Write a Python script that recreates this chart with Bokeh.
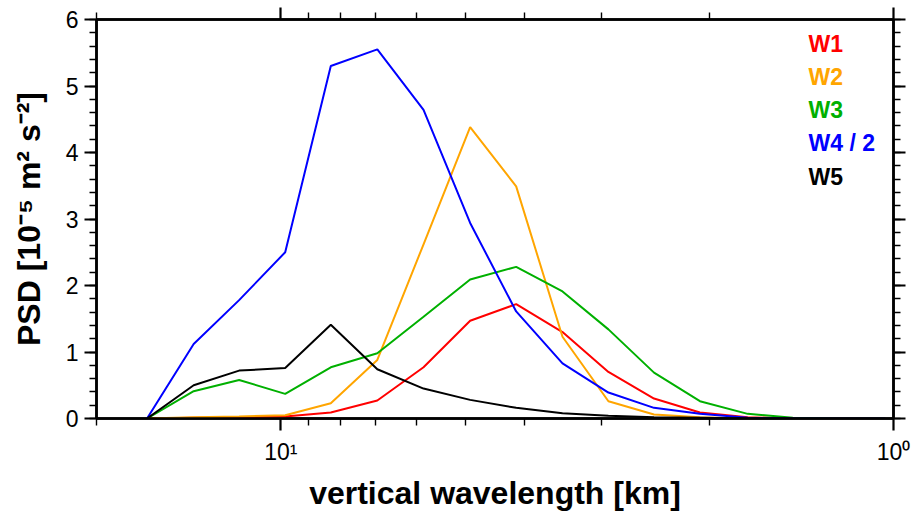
import math
from bokeh.plotting import figure
from bokeh.models import (Range1d, LinearAxis, LogAxis, FixedTicker, SingleIntervalTicker,
                          Label, CustomJSTickFormatter)
from bokeh.embed import file_html
from bokeh.resources import INLINE

# ---------------- data ----------------
wavelength_km = [16.54, 13.88, 11.70, 9.84, 8.29, 6.96, 5.85, 4.91, 4.13, 3.47,
                 2.92, 2.46, 2.07, 1.73, 1.46, 1.23, 1.03]
w1 = [0.00, 0.01, 0.02, 0.03, 0.09, 0.27, 0.77, 1.47, 1.72, 1.30,
      0.70, 0.30, 0.09, 0.02, 0.00, 0.00, 0.00]
w2 = [0.00, 0.02, 0.03, 0.05, 0.23, 0.88, 2.62, 4.38, 3.49, 1.23,
      0.26, 0.06, 0.02, 0.00, 0.00, 0.00, 0.00]
w3 = [0.00, 0.41, 0.58, 0.37, 0.77, 0.98, 1.53, 2.09, 2.28, 1.91,
      1.34, 0.69, 0.26, 0.07, 0.01, 0.00, 0.00]
w4_half = [0.00, 1.12, 1.78, 2.50, 5.30, 5.55, 4.64, 2.94, 1.61, 0.83,
           0.39, 0.16, 0.07, 0.01, 0.00, 0.00, 0.00]
w5 = [0.00, 0.50, 0.72, 0.76, 1.41, 0.74, 0.45, 0.28, 0.16, 0.08,
      0.04, 0.02, 0.01, 0.00, 0.00, 0.00, 0.00]

series_names = ["W1", "W2", "W3", "W4 / 2", "W5"]
series_values = [w1, w2, w3, w4_half, w5]
series_colors = ["#FF0000", "#FFA500", "#00B000", "#0000FF", "#000000"]

x_major_ticks = [1, 10]
x_minor_ticks = [2, 3, 4, 5, 6, 7, 8, 9, 20]
x_tick_labels = {"1": "10\u2070", "10": "10\u00b9"}
x_title = "vertical wavelength [km]"
y_title = "PSD [10\u207b\u2075 m\u00b2 s\u207b\u00b2]"

# ---------------- layout ----------------
FONT = "Liberation Sans"
W, H = 914, 513
FL, FR, FT, FB = 96, 893, 19, 418  # frame edges in px

p = figure(width=W, height=H, x_axis_type="log",
           x_range=Range1d(20, 1), y_range=Range1d(0, 6),
           output_backend="svg", toolbar_location=None,
           min_border_left=FL, min_border_right=W - FR, min_border_top=FT,
           min_border_bottom=H - FB)
p.background_fill_color = "white"
p.border_fill_color = "white"
p.xgrid.visible = False
p.ygrid.visible = False
p.outline_line_color = "black"
p.outline_line_width = 2.5

blank = CustomJSTickFormatter(code="return ''")

def style_axis(ax, labels):
    ax.axis_line_width = 2.5
    ax.axis_line_color = "black"
    ax.major_tick_in = 0
    ax.major_tick_out = 12
    ax.minor_tick_in = 0
    ax.minor_tick_out = 7
    ax.major_tick_line_width = 2.2
    ax.minor_tick_line_width = 1.4
    ax.major_tick_line_color = "black"
    ax.minor_tick_line_color = "black"
    ax.major_label_text_font = FONT
    ax.major_label_text_font_size = "23px"
    ax.major_label_text_color = "black"
    ax.axis_label_text_font = FONT
    ax.axis_label_text_font_size = "32px"
    ax.axis_label_text_font_style = "bold"
    ax.axis_label_text_color = "black"
    if not labels:
        ax.formatter = blank

# x axes (bottom & top)
xb = p.xaxis[0]
xb.ticker = FixedTicker(ticks=x_major_ticks, minor_ticks=x_minor_ticks)
style_axis(xb, True)
xb.formatter = CustomJSTickFormatter(args=dict(labels=x_tick_labels),
                                     code="const k = String(tick); return (k in labels) ? labels[k] : '';")
xb.major_label_standoff = 8
xb.axis_label = x_title
xb.axis_label_standoff = 7

xt = LogAxis(ticker=FixedTicker(ticks=x_major_ticks, minor_ticks=x_minor_ticks))
style_axis(xt, False)
p.add_layout(xt, "above")

# y axes (left & right)
yl = p.yaxis[0]
yl.ticker = SingleIntervalTicker(interval=1, num_minor_ticks=5)
style_axis(yl, True)
yl.major_label_standoff = 6
yl.axis_label = y_title
yl.axis_label_standoff = 16

yr = LinearAxis(ticker=SingleIntervalTicker(interval=1, num_minor_ticks=5))
style_axis(yr, False)
p.add_layout(yr, "right")

# ---------------- lines ----------------
for vals, col in zip(series_values, series_colors):
    p.line(wavelength_km, vals, line_color=col, line_width=2)

# ---------------- legend texts (screen units, from frame bottom-left) ----------------
for i, (name, col) in enumerate(zip(series_names, series_colors)):
    p.add_layout(Label(x=808 - FL, y=FB - (43 + i * 33.3), x_units="screen", y_units="screen",
                       text=name, text_font=FONT, text_font_size="23px",
                       text_font_style="bold", text_color=col,
                       text_align="left", text_baseline="alphabetic"))

open("out.html", "w").write(file_html(p, INLINE))
